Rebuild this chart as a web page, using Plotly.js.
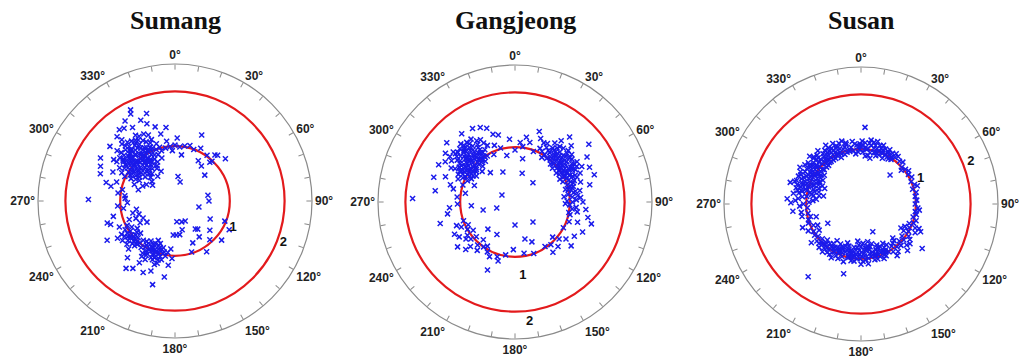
<!DOCTYPE html>
<html>
<head>
<meta charset="utf-8">
<script src="https://cdn.plot.ly/plotly-3.0.1.min.js"></script>
<style>html,body{margin:0;padding:0;background:#fff;}#chart{width:1020px;height:359px;}</style>
</head>
<body>
<div id="chart"></div>
<script>
// ---------- data ----------
const siteNames = ["Sumang", "Gangjeong", "Susan"];
const ringValues = [1, 2];
const angleTicks = [0,10,20,30,40,50,60,70,80,90,100,110,120,130,140,150,160,170,180,190,200,210,220,230,240,250,260,270,280,290,300,310,320,330,340,350];
const angleLabels = ["0°","","","30°","","","60°","","","90°","","","120°","","","150°","","","180°","","","210°","","","240°","","","270°","","","300°","","","330°","",""];
const ringLabels = ["1", "2"];
const sumangLabelTheta = [115, 111];
const sumangLabelR = [1.17, 2.12];
const gangjeongLabelTheta = [174, 173];
const gangjeongLabelR = [1.36, 2.2];
const susanLabelTheta = [67, 69];
const susanLabelR = [1.18, 2.15];

const sumangTheta = [
321,318,325,315,328,310,322,330,313,305,335,318,326,308,300,332,316,340,312,324,
298,303,336,320,329,309,342,295,317,331,345,304,300,338,322,314,327,319,311,333,
307,324,316,329,302,337,320,313,326,310,334,297,344,318,306,323,315,330,309,327,
312,321,339,301,325,317,335,304,343,308,319,328,296,314,331,322,340,299,311,326,
321,316,326,311,331,306,336,319,324,314,329,309,334,304,317,322,327,312,332,307,
320,315,325,310,330,305,335,318,323,313,328,308,333,303,319,324,314,329,309,316,
322,312,327,317,307,332,302,337,320,325,
334,328,322,337,330,340,318,325,345,310,342,333,
300,271,290,295,285,288,282,278,292,276,283,287,
300,310,325,335,295,305,
350,355,0,5,10,15,352,357,348,353,20,2,8,
22,26,35,41,43,42,15,7,49,43,30,37,50,
80,90,104,175,162,144,141,130,146,130,148,162,157,183,178,172,166,153,138,118,112,117,
202,198,206,195,210,200,205,192,208,197,213,203,199,210,194,206,201,215,196,204,
190,211,207,193,200,212,198,188,216,203,
201,197,205,209,193,213,199,203,207,195,211,200,204,208,196,
229,225,233,222,236,228,240,231,220,238,226,234,243,224,232,219,237,227,245,230,
227,231,235,223,239,233,229,225,221,236,
195,204,216,240,252,256,199,210,186,220,188,212,183,185,248,250,
273,268,254,242,233,262,258,246,265,250,238];
const sumangR = [
1.00,0.95,1.05,1.10,0.92,0.98,1.18,1.12,0.85,1.05,1.00,1.25,0.80,1.20,0.95,1.25,0.75,0.90,1.32,1.35,
1.10,0.85,0.78,0.65,1.40,0.70,1.10,1.25,1.42,0.68,0.95,1.35,0.75,1.30,0.88,1.05,1.15,1.10,0.92,0.95,
1.12,0.97,1.20,1.02,1.00,1.15,1.30,1.15,1.28,0.80,0.85,0.90,1.02,0.82,0.92,1.08,0.95,0.88,1.08,0.93,
1.25,1.38,1.20,1.18,0.72,0.68,1.08,0.78,0.82,1.28,1.48,1.22,1.02,0.62,1.35,0.78,1.00,0.82,1.40,1.02,
0.90,1.02,0.98,1.08,1.05,1.12,0.92,1.22,1.25,1.18,1.30,0.88,1.20,1.28,0.98,0.84,0.86,1.00,1.02,0.82,
1.12,1.12,1.18,1.15,0.78,0.96,1.35,1.35,0.90,0.75,1.10,1.00,0.72,1.10,0.74,1.05,0.88,0.85,1.22,1.30,
0.95,1.05,1.32,1.18,1.18,1.10,0.92,1.05,1.22,0.88,
1.85,1.72,1.65,1.60,1.55,1.50,1.58,1.62,1.40,1.55,1.68,1.78,
1.57,1.58,1.45,1.50,1.30,1.12,0.98,1.05,0.80,0.92,1.20,0.70,
0.60,0.55,0.55,0.60,0.65,0.50,
0.98,1.00,1.02,0.99,1.02,1.05,1.10,0.92,1.25,1.35,1.00,1.15,0.85,
1.30,1.07,1.02,1.11,1.14,0.95,0.36,0.45,0.72,0.99,0.85,0.80,1.20,
0.61,0.62,0.45,0.38,0.40,0.63,0.66,0.83,0.79,1.11,1.09,0.98,0.83,0.62,0.62,0.62,0.54,0.41,0.95,1.12,0.98,0.72,
0.96,0.90,1.02,1.05,0.92,1.10,0.85,0.95,1.12,1.00,1.00,1.05,0.82,1.05,0.88,0.95,1.15,0.90,1.12,0.90,
1.02,0.85,1.20,1.10,0.98,1.12,1.22,0.95,1.05,0.78,
1.00,0.94,0.93,1.08,0.98,0.96,1.06,1.12,0.88,0.92,1.18,0.86,1.00,0.98,1.18,
1.03,0.95,1.08,1.10,0.98,1.18,1.05,0.90,1.00,1.15,1.05,0.85,0.98,1.22,1.00,0.92,1.25,0.86,1.12,1.12,
1.00,1.05,1.12,1.02,0.92,1.20,0.95,1.10,1.05,1.05,
1.58,1.43,1.52,1.43,1.30,1.16,1.35,1.30,1.18,1.35,1.40,1.45,1.05,0.88,0.90,1.25,
0.91,0.87,0.80,0.66,0.64,0.95,0.72,0.78,1.05,0.70,0.75];

const gangjeongTheta = [
314,310,318,305,322,312,300,326,308,316,320,302,330,298,311,324,306,317,295,328,
304,313,321,299,332,309,319,325,301,315,307,323,296,312,318,329,303,311,316,294,
327,305,320,310,334,298,314,322,308,300,292,326,317,303,313,331,297,306,319,309,
313,309,317,305,321,301,325,311,315,307,319,303,323,299,327,312,308,316,304,320,
300,324,310,314,318,306,322,302,326,298,313,317,309,321,305,
339,346,311,300,278,272,285,275,254,290,288,282,292,335,342,330,336,340,287,280,265,268,260,322,305,296,
235,221,209,198,232,202,240,228,215,245,225,238,230,218,212,242,248,205,236,226,250,220,196,233,244,
54,50,58,45,62,40,66,48,55,35,60,43,52,38,68,47,57,32,64,42,
51,70,36,59,46,63,53,40,72,49,56,30,66,44,61,39,75,53,34,58,
78,48,67,28,73,50,81,62,42,57,85,76,88,82,90,86,93,95,80,92,
97,84,99,89,101,25,31,26,37,45,
52,48,56,44,60,40,64,50,54,46,58,42,62,38,66,51,47,55,43,59,
39,63,53,49,57,45,61,41,65,37,70,74,68,72,80,77,84,35,33,29,
19,14,52,71,90,102,114,103,133,136,140,130,126,120,108,110,65,77,40,58,96,106,22,118,128,143,146,
345,350,5,14,298,256,180,138,157,182,252,209,338,43,0,10,355,20,320,170,160,190,165,225,265,10,8];
const gangjeongR = [
1.09,1.00,1.15,1.10,1.05,1.25,1.00,1.20,0.90,0.95,1.30,1.20,1.10,0.90,1.38,0.92,1.30,1.45,1.05,1.32,
0.85,0.82,1.18,1.25,1.22,1.15,1.02,1.40,1.08,1.32,1.02,1.12,1.15,1.12,0.88,0.98,0.95,0.95,1.22,0.95,
1.08,1.22,0.95,1.30,1.15,1.32,1.40,1.35,1.08,1.15,1.12,1.00,1.08,1.38,1.20,1.30,1.02,0.95,1.25,1.45,
1.05,1.12,1.00,1.00,1.22,1.12,1.10,1.20,1.15,1.25,1.12,1.05,1.28,1.15,1.25,0.98,1.35,1.28,1.18,1.08,
0.95,1.02,0.92,1.30,1.38,1.12,0.98,0.90,1.15,1.08,1.18,1.35,1.40,1.40,1.45,
1.44,1.26,1.65,1.47,1.47,1.87,1.22,1.06,1.42,1.35,1.00,1.15,0.80,1.50,1.30,1.55,0.95,1.10,1.55,0.92,1.20,1.05,1.25,1.58,1.55,1.55,
1.06,1.04,1.04,1.05,1.33,1.34,1.00,0.95,1.00,1.08,1.15,1.20,1.05,1.12,0.95,1.25,1.15,1.10,0.92,1.25,1.00,0.90,1.12,1.12,0.95,
1.01,1.10,1.15,1.05,1.00,1.12,1.20,1.25,0.92,1.10,1.30,0.95,1.20,1.25,1.05,1.15,1.05,1.02,1.12,1.32,
0.98,1.15,0.98,1.22,1.35,0.92,1.30,1.00,1.00,1.02,1.25,1.15,1.30,1.18,1.10,1.18,1.10,1.10,1.30,0.95,
1.05,0.92,0.95,1.05,1.25,1.35,1.08,1.38,1.08,1.35,1.05,0.95,1.12,0.98,1.05,1.20,1.00,1.12,1.20,0.92,
1.05,0.90,1.15,0.95,1.00,1.08,0.95,1.20,1.40,1.45,
1.05,1.08,1.10,1.12,1.08,1.05,1.10,1.18,1.15,1.22,1.20,1.22,1.25,1.05,1.15,1.28,1.30,0.98,1.00,1.02,
1.30,1.02,1.05,1.12,1.28,0.98,1.20,1.15,1.05,1.18,1.08,1.05,1.22,1.12,1.12,1.00,1.15,1.20,1.12,1.22,
1.36,1.12,1.71,1.53,1.24,1.36,1.35,1.03,0.94,1.13,1.02,1.05,1.15,1.25,1.20,1.05,1.50,1.40,1.55,1.55,1.30,1.45,1.25,1.00,1.30,1.15,0.98,
1.02,0.86,1.09,0.54,0.27,0.60,0.42,0.49,0.79,0.87,0.35,0.68,0.59,0.48,0.95,0.80,1.15,0.98,0.70,0.95,1.00,0.98,0.70,0.70,0.80,1.20,1.02];

const susanTheta = [
270,272,275,278,280,282,284,286,288,290,292,294,296,298,300,302,304,306,308,310,
312,314,316,318,320,322,324,326,328,330,332,334,336,338,340,342,344,346,348,350,
352,354,356,358,276,283,289,295,301,297,291,285,279,273,268,266,287,293,299,305,
311,303,309,315,317,321,325,319,313,307,327,331,335,339,343,337,333,329,323,345,
281,277,271,274,286,290,296,302,306,312,318,296,284,308,300,292,280,288,298,304,
281,285,289,293,297,301,305,309,313,317,321,325,329,333,337,283,287,291,295,299,
303,307,311,315,319,323,327,331,335,339,282,290,298,306,314,322,330,338,294,302,
274,287,262,264,260,293,282,
0,2,4,6,8,10,12,14,16,18,20,22,24,26,28,30,32,34,36,38,
1,5,9,13,17,21,25,29,3,11,15,19,23,27,31,35,359,357,7,33,
342,348,354,358,4,10,16,22,28,346,352,2,8,14,20,
42,45,48,52,55,58,62,66,70,74,78,82,86,90,94,98,101,104,107,50,72,96,
110,112,114,116,118,120,122,124,126,128,130,132,134,136,138,140,142,144,146,148,
126,115,135,121,129,141,117,145,113,137,
150,152,154,156,158,160,162,164,166,168,170,172,174,176,178,180,182,184,186,188,
190,192,194,196,198,200,202,204,206,208,210,212,214,216,218,220,222,224,226,228,
151,155,159,163,167,171,175,179,183,187,191,195,199,203,207,211,215,219,223,157,
165,173,181,189,197,205,213,169,177,185,193,201,209,153,161,185,194,216,180,170,
152,158,164,170,176,182,188,194,200,206,212,218,224,155,161,167,173,179,185,191,
197,203,209,215,221,227,160,175,190,205,
230,233,236,240,243,246,250,253,256,258,232,238,248,244,254,
157,45,240];
const susanR = [
1.05,0.95,1.15,1.00,0.88,1.10,1.22,0.80,1.00,1.15,0.92,1.25,1.05,0.85,1.18,0.98,1.10,0.90,1.22,1.05,
0.95,1.15,1.02,1.20,0.92,1.10,1.00,1.18,0.95,1.08,1.15,0.98,1.12,1.02,1.18,0.95,1.08,1.12,0.98,1.05,
1.15,0.92,1.08,1.00,0.82,0.95,1.28,0.78,1.30,1.12,1.05,1.05,1.25,1.20,1.12,0.98,0.90,1.18,1.00,1.25,
1.15,0.88,0.95,1.08,0.92,1.25,1.08,1.02,1.28,1.05,1.02,0.95,1.22,1.08,1.20,0.92,1.05,1.25,0.95,0.98,
0.78,1.08,1.28,0.88,1.15,0.82,0.95,1.08,1.15,1.02,1.10,1.22,1.02,0.85,0.92,1.10,1.15,1.12,1.25,1.00,
0.92,0.88,1.08,1.00,0.88,1.05,0.95,1.12,0.92,1.15,1.02,0.95,1.12,1.10,1.15,1.12,1.22,0.95,1.15,1.10,
1.18,1.18,1.08,1.22,0.98,1.15,1.12,1.00,1.02,0.98,1.18,1.25,1.05,0.98,1.20,1.05,1.18,1.12,0.85,0.82,
1.35,1.35,1.10,1.25,0.98,0.72,0.70,
1.05,0.95,1.12,1.00,0.90,1.08,1.15,0.97,1.05,1.12,0.95,1.06,1.10,1.00,1.12,1.04,1.09,0.98,1.05,1.10,
1.15,0.88,1.18,1.05,0.92,1.15,0.92,0.98,1.40,0.85,1.18,1.02,1.00,1.08,0.96,1.12,1.10,0.95,1.02,1.02,
1.05,1.02,1.10,1.05,1.02,0.95,0.98,1.02,1.05,1.15,0.98,1.08,1.12,1.10,1.08,
1.05,1.08,1.00,1.03,1.06,1.02,1.05,1.00,1.04,0.98,1.03,1.00,1.02,0.99,1.04,1.00,1.03,0.98,1.05,0.96,1.08,1.07,
1.02,0.95,1.08,0.98,1.12,1.00,0.92,1.05,1.10,0.95,1.02,1.12,0.97,1.05,0.90,1.02,1.10,0.95,1.05,0.88,
1.38,1.20,1.20,0.85,1.15,0.92,0.90,1.15,1.15,0.85,
1.00,0.90,1.05,0.85,0.95,1.02,0.88,0.95,1.05,0.80,0.92,1.00,0.85,0.95,1.05,0.78,0.92,1.00,0.85,0.95,
1.05,0.88,0.98,0.80,0.92,1.02,0.88,0.98,1.05,0.90,1.00,1.08,0.95,1.02,0.92,1.05,0.98,1.10,1.00,0.95,
0.82,0.95,0.80,1.05,0.90,0.78,1.02,0.88,0.75,1.05,0.92,0.85,0.75,1.08,0.82,0.92,0.88,1.12,0.90,1.08,
0.75,1.10,1.00,0.80,1.10,0.95,0.80,0.98,0.72,0.92,1.00,0.95,1.12,0.98,0.92,0.68,1.31,1.64,1.10,0.70,
0.95,0.88,0.98,0.85,0.90,0.85,0.98,0.90,0.82,0.92,0.95,1.00,1.02,1.02,0.98,0.95,0.82,0.95,0.80,0.98,
0.88,0.85,1.00,1.08,0.95,1.05,0.85,0.80,0.88,0.90,
1.05,0.98,1.02,1.00,1.08,0.95,1.02,1.00,0.95,1.10,1.15,0.90,1.15,0.88,0.85,
0.55,0.75,0.70];

// ---------- chart ----------
const sites = [
  {name: siteNames[0], th: sumangTheta, r: sumangR, lt: sumangLabelTheta, lr: sumangLabelR, cx: 175, cy: 201},
  {name: siteNames[1], th: gangjeongTheta, r: gangjeongR, lt: gangjeongLabelTheta, lr: gangjeongLabelR, cx: 515, cy: 202},
  {name: siteNames[2], th: susanTheta, r: susanR, lt: susanLabelTheta, lr: susanLabelR, cx: 861, cy: 204}
];
const W = 1020, H = 359, RAD = 137;
const traces = [];
const layout = {
  width: W, height: H,
  margin: {l: 0, r: 0, t: 0, b: 0},
  paper_bgcolor: '#ffffff',
  showlegend: false,
  annotations: []
};
sites.forEach((s, i) => {
  const key = i === 0 ? 'polar' : 'polar' + (i + 1);
  traces.push({
    type: 'scatterpolar', mode: 'markers', subplot: key,
    r: s.r, theta: s.th,
    marker: {symbol: 'x-thin', size: 5, color: '#1a1aeb', line: {width: 1.5, color: '#1a1aeb'}},
    hoverinfo: 'skip'
  });
  traces.push({
    type: 'scatterpolar', mode: 'text', subplot: key,
    r: s.lr, theta: s.lt, text: ringLabels,
    textfont: {family: 'Liberation Sans, Arial, sans-serif', size: 13, color: '#111'},
    texttemplate: '<b>%{text}</b>',
    hoverinfo: 'skip'
  });
  layout[key] = {
    domain: {
      x: [(s.cx - RAD) / W, (s.cx + RAD) / W],
      y: [1 - (s.cy + RAD) / H, 1 - (s.cy - RAD) / H]
    },
    bgcolor: '#ffffff',
    radialaxis: {
      range: [0, 2.5], tickvals: ringValues, showticklabels: false, ticks: '',
      showline: false, gridcolor: '#e31a1c', gridwidth: 2.2
    },
    angularaxis: {
      rotation: 90, direction: 'clockwise',
      tickmode: 'array', tickvals: angleTicks, ticktext: angleLabels.map(t => t ? '<b>' + t + '</b>' : ''),
      ticks: 'inside', ticklen: 5, tickwidth: 1, tickcolor: '#8a8a8a',
      showline: true, linecolor: '#8a8a8a', linewidth: 1.2,
      showgrid: false,
      tickfont: {family: 'Liberation Sans, Arial, sans-serif', size: 12, color: '#222'}
    }
  };
  layout.annotations.push({
    text: '<b>' + s.name + '</b>', xref: 'paper', yref: 'paper',
    x: s.cx / W, y: 1 - 20 / H, xanchor: 'center', yanchor: 'middle', showarrow: false,
    font: {family: 'Liberation Serif, Times New Roman, serif', size: 26, color: '#111'}
  });
});
Plotly.newPlot('chart', traces, layout, {staticPlot: true, displayModeBar: false});
</script>
</body>
</html>
